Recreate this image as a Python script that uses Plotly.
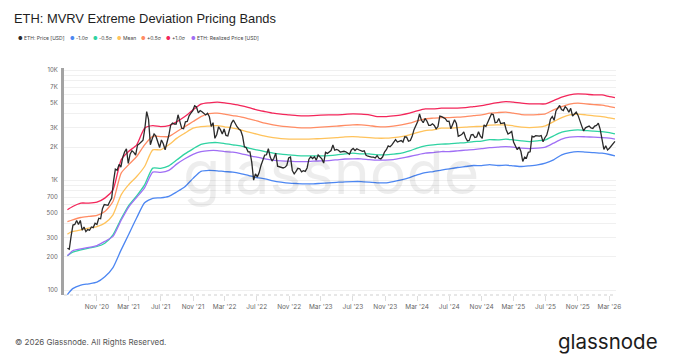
import pandas as pd
import plotly.graph_objects as go

# ---------------- data ----------------
price_start = "2020-07-12"   # weekly samples, every 7 days
price = [
    # 2020
    240, 235, 310,
    390, 395, 430, 395, 430,
    350, 375, 340, 355,
    350, 375, 370, 405,
    395, 450, 445, 550, 600,
    595, 590, 640, 685,
    # 2021
    975, 1260, 1230, 1390, 1310,
    1610, 1800, 1930, 1420,
    1720, 1850, 1790, 1690,
    2080, 2140, 2240, 2310,
    2950, 4200, 3580, 2100, 2380,
    2630, 2510, 2250, 1980,
    2320, 2140, 1890, 2190,
    2560, 3160, 3310, 3240, 3230,
    3930, 3410, 2960, 2930,
    3390, 3420, 3840, 4080, 4290,
    4750, 4630, 4090, 4290,
    4190, 4020, 3920, 4060,
    # 2022
    3770, 3080, 3330, 2400, 2600,
    3060, 2880, 2630, 2920,
    2550, 2520, 2900, 3300,
    3520, 3260, 3060, 2920,
    2830, 2520, 2010, 1970, 1810,
    1810, 1450, 1000, 1140,
    1070, 1170, 1360, 1550, 1690,
    1700, 1930, 1620, 1490,
    1580, 1760, 1340, 1330,
    1310, 1290, 1310, 1360, 1590,
    1620, 1220, 1140, 1200,
    1280, 1270, 1190, 1220,
    # 2023
    1200, 1290, 1550, 1630, 1570,
    1630, 1520, 1690, 1640,
    1560, 1430, 1790, 1750,
    1820, 1860, 2090, 1870, 1900,
    1870, 1800, 1810, 1830,
    1810, 1750, 1720, 1880,
    1940, 1860, 1930, 1890, 1860,
    1830, 1850, 1680, 1650,
    1630, 1620, 1620, 1590,
    1670, 1580, 1560, 1630, 1800,
    1890, 2050, 2010, 2090,
    2190, 2340, 2220, 2270, 2290,
    # 2024
    2220, 2480, 2460, 2260,
    2290, 2500, 2880, 3110,
    3420, 4000, 3520, 3330, 3640,
    3450, 3150, 3150, 3250,
    3140, 2930, 3070, 3830,
    3780, 3700, 3620, 3420, 3440,
    2930, 3240, 3540, 3270,
    2500, 2550, 2610, 2750,
    2430, 2270, 2300, 2580, 2600,
    2440, 2470, 2750, 2510,
    2400, 3180, 3080, 3360,
    3700, 3990, 3950, 3330, 3360,
    # 2025
    3630, 3270, 3300, 3320,
    2870, 2630, 2690, 2770,
    2220, 2020, 1890, 2000, 1820,
    1480, 1620, 1590, 1790,
    1810, 2510, 2470, 2540,
    2530, 2510, 2540, 2230, 2430,
    2570, 2970, 3580, 3790,
    3500, 4260, 4480, 4780, 4390,
    4300, 4660, 4470, 4140,
    4500, 3830, 3980, 4150,
    3880, 3400, 3100, 2800, 2990,
    3050, 3100, 2980, 2950,
    # 2026
    3100, 3150, 3300, 2900,
    2350, 1900, 2050, 1880,
    1950, 2030, 2120, 2250,
]

band_first = "2020-07-12"
band_last = "2026-03-22"
band_month_from = "2020-08-01"
band_month_to = "2026-03-01"

band_minus_1 = [91, 103, 111, 114, 118, 132,
    160, 232, 318, 454, 622, 683, 690, 712, 783, 869, 1038, 1203,
    1228, 1216, 1197, 1183, 1148, 1101, 1056, 1028, 986, 959, 939, 931,
    925, 925, 935, 945, 955, 966, 971, 971, 959, 945, 945, 971,
    1007, 1056, 1117, 1172, 1197, 1233, 1267, 1303, 1330, 1358, 1355, 1386,
    1358, 1368, 1349, 1330, 1349, 1377, 1428, 1530, 1698, 1782, 1820, 1798,
    1782, 1758, 1710, 1663]
band_minus_05 = [205, 221, 232, 241, 249, 267,
    318, 445, 584, 720, 906, 1285, 1280, 1349, 1530, 1734, 1926, 2115,
    2183, 2197, 2153, 2094, 2050, 1954, 1885, 1820, 1758, 1722, 1698, 1674,
    1663, 1663, 1663, 1674, 1698, 1734, 1758, 1734, 1734, 1698, 1698, 1722,
    1758, 1846, 1954, 2050, 2094, 2125, 2138, 2169, 2197, 2243, 2266, 2339,
    2323, 2360, 2323, 2276, 2243, 2276, 2323, 2528, 2730, 2826, 2866, 2826,
    2788, 2767, 2710, 2636]
band_mean = [323, 341, 353, 366, 378, 406,
    484, 735, 906, 1078, 1330, 1885, 1885, 2094, 2409, 2675, 2970, 3070,
    3104, 3135, 3053, 2970, 2866, 2730, 2618, 2512, 2440, 2388, 2360, 2360,
    2360, 2372, 2388, 2409, 2440, 2476, 2490, 2460, 2440, 2409, 2409, 2440,
    2490, 2582, 2710, 2826, 2866, 2970, 2970, 3006, 3033, 3070, 3083, 3170,
    3184, 3184, 3119, 3033, 3006, 3033, 3119, 3410, 3710, 3926, 3981, 3926,
    3845, 3785, 3683, 3608]
band_plus_05 = [420, 436, 457, 467, 477, 518,
    639, 1158, 1377, 1640, 2094, 2500, 2490, 2490, 2767, 3070, 3410, 3785,
    4030, 4064, 3981, 3866, 3760, 3608, 3460, 3297, 3184, 3097, 3053, 3006,
    2987, 3006, 3033, 3070, 3097, 3148, 3184, 3184, 3135, 3070, 3053, 3097,
    3184, 3297, 3460, 3608, 3662, 3710, 3710, 3740, 3785, 3866, 3926, 4064,
    4118, 4150, 4064, 3948, 3926, 3948, 4008, 4355, 4667, 4910, 5010, 4940,
    4865, 4808, 4667, 4570]
band_plus_1 = [537, 575, 618, 618, 631, 686,
    816, 1530, 1820, 2094, 2970, 3135, 3070, 3135, 3410, 3785, 4355, 4910,
    5045, 5120, 5045, 4910, 4765, 4570, 4355, 4205, 4064, 3981, 3926, 3866,
    3845, 3866, 3900, 3926, 3926, 3963, 4008, 3981, 3926, 3785, 3785, 3845,
    3926, 4064, 4266, 4446, 4446, 4515, 4515, 4515, 4570, 4667, 4754, 4920,
    5070, 5185, 5120, 5010, 4940, 4940, 4940, 5290, 5685, 5960, 6095, 6050,
    5960, 5960, 5755, 5635]
realized_price = [205, 228, 237, 244, 254, 277,
    308, 431, 566, 698, 851, 1183, 1178, 1228, 1406, 1563, 1716, 1820,
    1858, 1858, 1820, 1798, 1746, 1674, 1618, 1563, 1520, 1497, 1489, 1476,
    1476, 1489, 1497, 1507, 1530, 1556, 1563, 1563, 1538, 1520, 1520, 1538,
    1585, 1640, 1698, 1758, 1782, 1820, 1820, 1846, 1875, 1897, 1933, 1977,
    1995, 2019, 1995, 1954, 1937, 1954, 1995, 2169, 2360, 2460, 2490, 2476,
    2460, 2440, 2409, 2360]

series_names = ["ETH: Price [USD]", "-1.0σ", "-0.5σ", "Mean", "+0.5σ", "+1.0σ",
                "ETH: Realized Price [USD]"]
series_colors = ["#2a2a2a", "#4d87f2", "#2fd3a2", "#ffc35c", "#ff8c64", "#f3265a",
                 "#a06ff5"]

y_tick_vals = [100, 200, 300, 500, 700, 1000, 2000, 3000, 5000, 7000, 10000]
y_tick_text = ["100", "200", "300", "500", "700", "1K", "2K", "3K", "5K", "7K", "10K"]
y_minor_vals = [400, 600, 800, 900, 4000, 6000, 8000, 9000]
x_tick_from = "2020-11-01"
x_tick_to = "2026-03-01"

# ---------------- build ----------------
price_dates = pd.date_range(price_start, periods=len(price), freq="7D")
band_dates = ([pd.Timestamp(band_first)]
              + list(pd.date_range(band_month_from, band_month_to, freq="MS"))
              + [pd.Timestamp(band_last)])
x_ticks = pd.date_range(x_tick_from, x_tick_to, freq="4MS")

bands = [band_minus_1, band_minus_05, band_mean, band_plus_05, band_plus_1, realized_price]

fig = go.Figure()
for name, color, vals in zip(series_names[1:], series_colors[1:], bands):
    fig.add_trace(go.Scatter(
        x=band_dates, y=vals, name=name, mode="lines",
        line=dict(color=color, width=1.3, shape="spline", smoothing=0.6),
        showlegend=False, hoverinfo="skip"))
fig.add_trace(go.Scatter(
    x=price_dates, y=price, name=series_names[0], mode="lines",
    line=dict(color=series_colors[0], width=1.3), showlegend=False))

# the page body has an 8px default margin: the figure starts at (8, 8)
OFF = 8
PAGE_W, PAGE_H = 689, 356
W, H = PAGE_W - OFF, PAGE_H - OFF
PLOT_L, PLOT_R, PLOT_T, PLOT_B = 64, 616, 68, 295   # page pixels of the plot area
L, R, T, B = PLOT_L - OFF, PAGE_W - PLOT_R, PLOT_T - OFF, PAGE_H - PLOT_B
pw, ph = PLOT_R - PLOT_L, PLOT_B - PLOT_T


def px_x(x):
    return (x - PLOT_L) / pw


def px_y(y):
    return (PLOT_B - y) / ph


annotations = []
legend_x = [16, 68, 91, 115, 139, 164, 189]
for nm, col, lx in zip(series_names, series_colors, legend_x):
    annotations.append(dict(
        text=f'<span style="color:{col}">●</span> {nm}', x=px_x(lx), y=px_y(38),
        xref="paper", yref="paper", xanchor="left", yanchor="middle", showarrow=False,
        font=dict(family="Inter", size=5, color="#444")))

# watermark
annotations.append(dict(text="glassnode", x=px_x(331), y=px_y(172), xref="paper", yref="paper",
                        xanchor="center", yanchor="middle", showarrow=False,
                        font=dict(family="Inter", size=61, color="rgba(0,0,0,0.07)")))
# footer
annotations.append(dict(text="© 2026 Glassnode. All Rights Reserved.", x=px_x(13), y=px_y(342),
                        xref="paper", yref="paper", xanchor="left", yanchor="middle",
                        showarrow=False, font=dict(family="Inter", size=8, color="#555")))
annotations.append(dict(text="glassnode", x=px_x(660), y=px_y(341), xref="paper", yref="paper",
                        xanchor="right", yanchor="middle", showarrow=False,
                        font=dict(family="Inter", size=20.5, color="#1c1c1c")))

fig.update_layout(
    width=W, height=H,
    margin=dict(l=L, r=R, t=T, b=B, pad=0),
    paper_bgcolor="white", plot_bgcolor="white",
    title=dict(text="ETH: MVRV Extreme Deviation Pricing Bands", x=(14 - OFF) / W,
               y=1 - (18 - OFF) / H,
               xref="container", yref="container", xanchor="left", yanchor="middle",
               font=dict(family="Liberation Sans", size=12.9, color="#1e1e1e")),
    showlegend=False,
    annotations=annotations,
    shapes=[dict(type="line", xref="paper", yref="paper", x0=0, x1=1, y0=0, y1=0,
                 line=dict(color="#cfcfcf", width=1, dash="dot"))],
)

fig.update_xaxes(
    type="date", range=["2020-06-29", "2026-03-26"],
    tickmode="array", tickvals=x_ticks, tickformat="%b '%y",
    showgrid=False, zeroline=False, showline=False,
    ticks="outside", ticklen=5, tickcolor="#dddddd", tickwidth=1,
    tickfont=dict(family="Inter", size=6.5, color="#666"),
)
fig.update_yaxes(
    type="log", range=[1.955, 4.02],
    tickmode="array", tickvals=y_tick_vals, ticktext=y_tick_text,
    showgrid=True, gridcolor="#f0f0f0", gridwidth=1, zeroline=False,
    showline=True, linecolor="#a3a3a3", linewidth=3,
    ticks="", ticklabelstandoff=2,
    tickfont=dict(family="Inter", size=6, color="#666"),
    minor=dict(tickmode="array", tickvals=y_minor_vals, showgrid=True,
               gridcolor="#f0f0f0", gridwidth=1, ticks=""),
)

fig.write_html("out.html")
